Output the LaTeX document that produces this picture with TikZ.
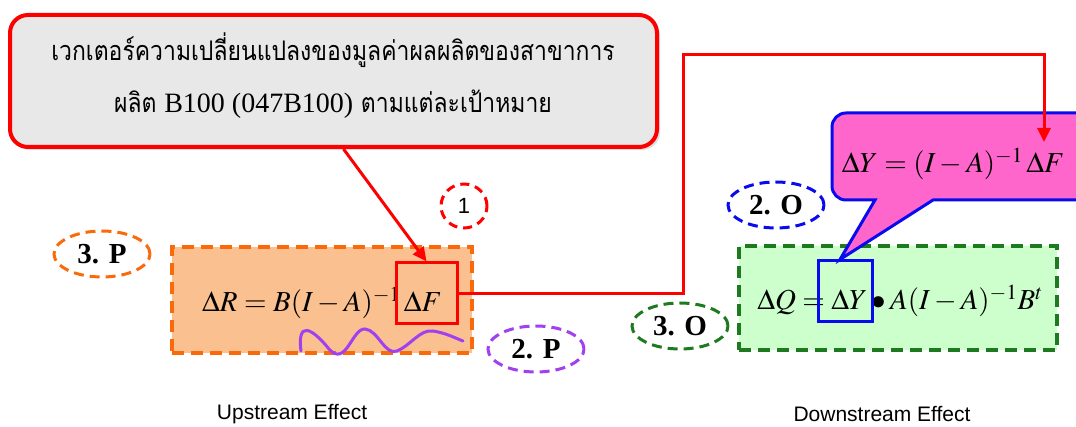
\documentclass[tikz,border=0pt]{standalone}
\usepackage{mathptmx}
\usepackage{fontspec}
\setmainfont{Liberation Serif}
\setsansfont{Liberation Sans}
\newfontfamily\thaifont[Script=Thai,FakeStretch=0.85]{Loma}
\usetikzlibrary{shapes.geometric,arrows.meta,shadows}
\definecolor{cgray}{HTML}{E8E8E8}
\definecolor{cred}{HTML}{FF0000}
\definecolor{ofill}{HTML}{FAC090}
\definecolor{oline}{HTML}{FA6A0A}
\definecolor{cpurple}{HTML}{A040F0}
\definecolor{pfill}{HTML}{FF66CC}
\definecolor{cblue}{HTML}{0A0AF0}
\definecolor{gfill}{HTML}{CCFFCC}
\definecolor{gline}{HTML}{1E7A1E}
\tikzset{
  tag/.style={ellipse, draw, line width=3pt, dash pattern=on 10pt off 6pt, inner sep=0pt,
    minimum width=96pt, minimum height=46pt, font=\bfseries\fontsize{29}{29}\selectfont},
  formbox/.style={rectangle, line width=3.5pt, dash pattern=on 12pt off 7pt, inner sep=0pt},
  formula/.style={inner sep=0pt, font=\fontsize{29}{29}\selectfont},
  hilite/.style={rectangle, draw, line width=3pt, inner sep=0pt, fill=none},
  redline/.style={draw=cred, line width=3pt},
  tip/.style={-{Triangle[length=14pt,width=13pt]}},
  caption/.style={font=\sffamily\fontsize{21}{21}\selectfont, inner sep=0pt}
}
\begin{document}
\begin{tikzpicture}[x=1pt,y=-1pt]
\useasboundingbox (0,0) rectangle (1076,427);
\clip (0,0) rectangle (1076,427);
\fill[white] (0,0) rectangle (1076,427);

% grey callout
\node[draw=cred, line width=4pt, fill=cgray, rounded corners=18pt,
  minimum width=647pt, minimum height=132pt, inner sep=0pt,
  drop shadow={opacity=0.25, shadow xshift=3pt, shadow yshift=-3pt}]
  (callout) at (333.5,81) {};
\node[inner sep=0pt, align=center, font=\thaifont\fontsize{27}{52}\selectfont]
  (callouttext) at (333,76)
  {เวกเตอร์ความเปลี่ยนแปลงของมูลค่าผลผลิตของสาขาการ\\
   ผลิต {\rmfamily\fontsize{28}{28}\selectfont B100 (047B100)} ตามแต่ละเป้าหมาย};

% upstream box
\node[formbox, draw=oline, fill=ofill, minimum width=300pt, minimum height=106pt] (obox) at (322,300) {};
\node[formula] (fR) at (322,303) {$\Delta R = B(I-A)^{-1}\,\Delta F$};
\node[hilite, draw=cred, minimum width=61pt, minimum height=61pt] (dF) at (426.5,293.5) {};
\draw[cpurple, line width=3pt, line cap=round]
  (301,351) .. controls (297,320) and (312,328) .. (329,349)
  .. controls (346,368) and (352,328) .. (365,329)
  .. controls (378,330) and (385,356) .. (397,351)
  .. controls (410,346) and (420,329) .. (433,331)
  .. controls (446,333) and (455,338) .. (463,341);

% tags
\node[tag, draw=oline] (t3P) at (102,254) {3. P};
\node[tag, draw=cpurple] (t2P) at (536,349) {2. P};
\node[ellipse, draw=cred, line width=3pt, dash pattern=on 9pt off 6pt, minimum width=46pt,
  minimum height=44pt, inner sep=0pt, font=\sffamily\fontsize{22}{22}\selectfont] (t1) at (464,206) {1};

% downstream box
\node[formbox, draw=gline, fill=gfill, minimum width=318pt, minimum height=104pt] (gbox) at (898,298) {};
\node[formula] (fQ) at (900,301) {$\Delta Q = \Delta Y \bullet A(I-A)^{-1}B^{t}$};
\node[hilite, draw=cblue, minimum width=54pt, minimum height=61pt] (dY) at (845,291.5) {};
\node[tag, draw=gline] (t3O) at (680,326) {3. O};
\node[tag, draw=cblue] (t2O) at (776,205) {2. O};

% pink callout
\coordinate (ytail) at ([xshift=-5pt]dY.north);
\draw[fill=pfill, draw=cblue, line width=3pt, line join=miter]
  (ytail) -- (933,200) -- (1095,200) -- (1095,113) -- (846,113)
  arc[start angle=270, end angle=180, radius=14] -- (832,186)
  arc[start angle=180, end angle=90, radius=14] -- (875,200) -- cycle;
\node[formula] (fY) at (953,164) {$\Delta Y = (I-A)^{-1}\,\Delta F$};

% connectors
\draw[redline, tip] ([xshift=10pt]callout.south) -- (dF.north);
\coordinate (bendA) at (683,55);
\coordinate (ytip) at (1044,142);
\draw[redline, tip] (dF.east) -| (bendA) -| (ytip);

% captions
\node[caption] (up) at (292,414) {Upstream Effect};
\node[caption] (down) at (882,414) {Downstream Effect};
\end{tikzpicture}
\end{document}
